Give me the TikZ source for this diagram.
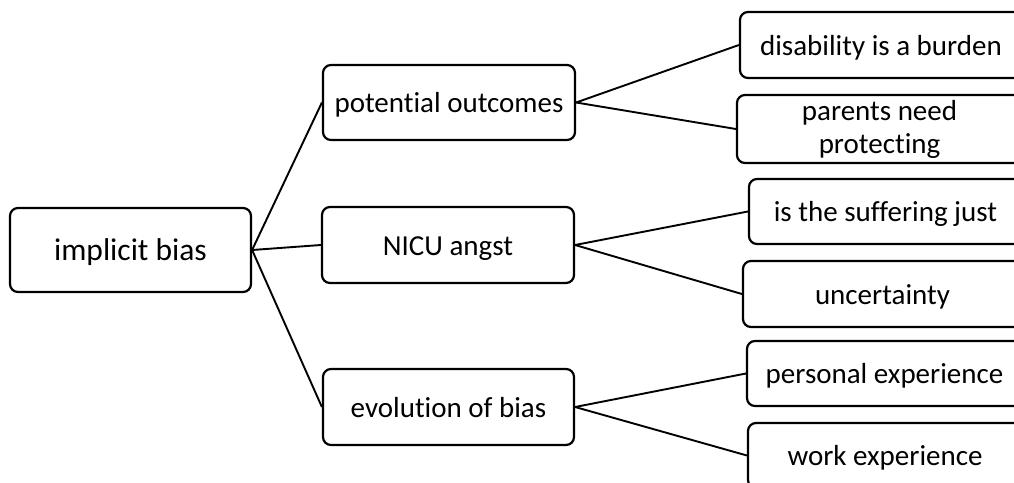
\documentclass[tikz,border=0pt]{standalone}
\usepackage{fontspec}
\setmainfont{Carlito}[Ligatures=NoCommon]
\begin{document}
\begin{tikzpicture}[x=1pt,y=-1pt,
  box/.style={draw, rounded corners=8pt, line width=2.2pt, align=center,
    inner sep=0pt, text height=28pt, text depth=8pt,
    font=\fontsize{29}{33}\selectfont},
  link/.style={line width=1.9pt}]
\useasboundingbox (0,0) rectangle (1014,482);
\fill[white] (0,0) rectangle (1014,482);
% root
\node[box, minimum width=241pt, minimum height=84pt, text height=29pt, text depth=8pt,
  font=\fontsize{31.5}{36}\selectfont] (root) at (130.5,250) {implicit bias};
% middle level
\node[box, minimum width=252pt, minimum height=75pt] (po) at (449,102.5) {potential outcomes};
\node[box, minimum width=252pt, minimum height=76pt] (nicu) at (448,245) {NICU angst};
\node[box, minimum width=251pt, minimum height=76pt] (evo) at (448.5,407) {evolution of bias};
% leaves
\node[box, minimum width=282pt, minimum height=66pt] (dis) at (881,45) {disability is a burden};
\node[box, minimum width=285pt, minimum height=68pt, text height=, text depth=] (par) at (879.5,129) {parents need\\protecting};
\node[box, minimum width=273pt, minimum height=65pt] (suf) at (885.5,211.5) {is the suffering just};
\node[box, minimum width=279pt, minimum height=66pt] (unc) at (882.5,294) {uncertainty};
\node[box, minimum width=275pt, minimum height=65pt] (pers) at (884.5,373.5) {personal experience};
\node[box, minimum width=274pt, minimum height=65pt] (work) at (885,455.5) {work experience};
% connectors
\foreach \m in {po,nicu,evo} \draw[link] (root.east) -- (\m.west);
\draw[link] (po.east) -- (dis.west);
\draw[link] (po.east) -- (par.west);
\draw[link] (nicu.east) -- (suf.west);
\draw[link] (nicu.east) -- (unc.west);
\draw[link] (evo.east) -- (pers.west);
\draw[link] (evo.east) -- (work.west);
\end{tikzpicture}
\end{document}
